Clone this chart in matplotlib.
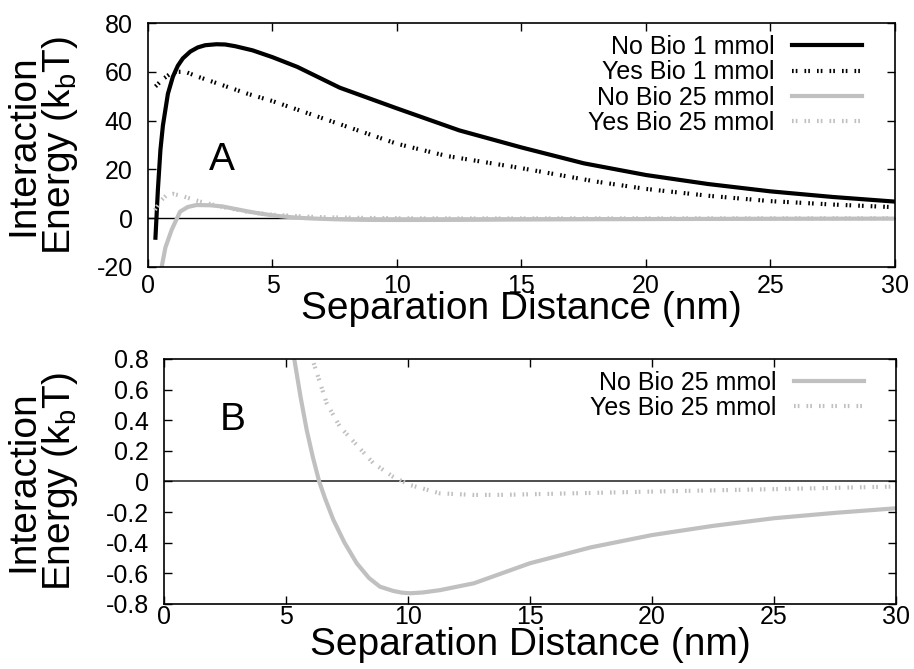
import matplotlib
matplotlib.use("Agg")
import matplotlib.pyplot as plt

plt.rcParams['font.family'] = ['Liberation Sans', 'DejaVu Sans']
plt.rcParams['mathtext.fontset'] = 'custom'
plt.rcParams['mathtext.rm'] = 'Liberation Sans'
plt.rcParams['mathtext.it'] = 'Liberation Sans'
plt.rcParams['axes.unicode_minus'] = False
plt.rcParams['lines.scale_dashes'] = False

# --- data ---
# 1 mmol curves (panel A only)
x_nobio1 = [0.3, 0.4, 0.5, 0.6, 0.8, 1.0, 1.2, 1.4, 1.7, 2.0, 2.3, 2.75, 3.1, 3.5,
            4.2, 5.0, 6.0, 7.7, 10.0, 12.5, 15.0, 17.5, 20.0, 22.5, 25.0, 27.5, 30.0]
y_nobio1 = [-8, 12, 28, 38, 51, 58, 62.5, 65.5, 68.3, 70, 70.9, 71.3, 71.2, 70.5,
            68.8, 66, 62, 53.5, 45, 36, 29, 22.5, 17.7, 14, 11, 8.7, 6.8]

x_yesbio1 = [0.3, 0.6, 1.0, 1.5, 2.0, 3.0, 4.0, 5.0, 6.0, 7.0, 8.0, 10.0,
             12.0, 15.0, 18.0, 20.0, 22.5, 25.0, 27.5, 30.0]
y_yesbio1 = [54, 57, 60, 60, 58, 54.5, 51, 48, 44.5, 41, 37.5, 30.5,
             25.5, 20.5, 15, 12, 9.2, 7, 5.6, 4.5]

# 25 mmol curves (both panels)
x_nobio25 = [0.45, 0.55, 0.7, 0.95, 1.29, 1.6, 1.95, 2.5, 3.0, 3.5, 4.0, 4.5,
             5.0, 5.34, 5.6, 5.85, 6.1, 6.36, 6.6, 6.94, 7.4, 7.9, 8.4, 8.85,
             9.4, 9.75, 10.1, 10.6, 11.3, 12.7, 15.0, 17.5, 20.0, 22.5, 25.0, 27.5, 30.0]
y_nobio25 = [-30, -20, -12, -4.8, 2.7, 4.6, 5.4, 5.3, 4.8, 3.8, 2.8, 1.9,
             1.2, 0.8, 0.55, 0.336, 0.16, 0.0, -0.11, -0.25, -0.4, -0.534, -0.63, -0.687,
             -0.715, -0.726, -0.73, -0.725, -0.71, -0.665, -0.534, -0.43, -0.35, -0.29,
             -0.24, -0.205, -0.175]

x_yesbio25 = [0.28, 0.5, 0.75, 1.0, 1.4, 2.09, 3.0, 3.96, 5.0, 6.08, 6.67, 7.21,
              7.9, 8.58, 9.4, 10.08, 11.3, 12.7, 14.0, 16.0, 20.0, 25.0, 30.0]
y_yesbio25 = [3.4, 7, 9.5, 10, 9, 6.8, 4.6, 2.7, 1.4, 0.8, 0.51, 0.358,
              0.238, 0.119, 0.03, -0.023, -0.077, -0.088, -0.087, -0.08, -0.066, -0.05, -0.033]

# panel B only shows the long-range part
b_xmin = 5.0

xticks = [0, 5, 10, 15, 20, 25, 30]
yticks_a = [-20, 0, 20, 40, 60, 80]
yticks_b = [-0.8, -0.6, -0.4, -0.2, 0, 0.2, 0.4, 0.6, 0.8]
yticklabels_b = ['-0.8', '-0.6', '-0.4', '-0.2', '0', '0.2', '0.4', '0.6', '0.8']

gray = '#c0c0c0'
dots = (1.2, 1.5, 1.2, 5.1)
lw = 3.0

fig = plt.figure(figsize=(9.14, 6.69), dpi=100)
ax_a = fig.add_axes([0.1619, 0.6009, 0.8173, 0.3647])
ax_b = fig.add_axes([0.1794, 0.0972, 0.8009, 0.3662])

ylabel = 'Interaction\nEnergy (k$_{\\mathrm{b}}$T)'


def tail(xs, ys, xmin):
    pts = [(x, y) for x, y in zip(xs, ys) if x >= xmin]
    return [p[0] for p in pts], [p[1] for p in pts]


def style_axes(ax, label_x, xpad, xlabelpad):
    ax.tick_params(direction='in', length=6, width=1, top=True, right=True,
                   labelsize=18, color='black')
    ax.tick_params(axis='x', pad=xpad)
    ax.tick_params(axis='y', pad=11)
    for s in ax.spines.values():
        s.set_linewidth(1.2)
    ax.set_xlim(0, 30)
    ax.set_xticks(xticks)
    ax.set_xlabel('Separation Distance (nm)', fontsize=28, labelpad=xlabelpad)
    ax.set_ylabel(ylabel, fontsize=28, linespacing=0.95)
    ax.yaxis.set_label_coords(label_x, 0.5)


def add_legend(ax, top):
    ax.legend(loc='upper right', bbox_to_anchor=(0.956, top), frameon=False,
              markerfirst=False, fontsize=18, handlelength=2.8, labelspacing=0.05,
              borderpad=0, borderaxespad=0, handletextpad=0.7)


# panel A
ax_a.axhline(0, color='black', lw=1.0, zorder=1)
ax_a.plot(x_nobio1, y_nobio1, color='black', lw=lw, label='No Bio 1 mmol')
ax_a.plot(x_yesbio1, y_yesbio1, color='black', lw=lw, dashes=dots, label='Yes Bio 1 mmol')
ax_a.plot(x_nobio25, y_nobio25, color=gray, lw=lw, label='No Bio 25 mmol')
ax_a.plot(x_yesbio25, y_yesbio25, color=gray, lw=lw, dashes=dots, label='Yes Bio 25 mmol')
ax_a.set_ylim(-20, 80)
ax_a.set_yticks(yticks_a)
style_axes(ax_a, -0.091, 5, -5)
ax_a.text(2.97, 24, 'A', fontsize=28, ha='center', va='center')
add_legend(ax_a, 0.95)

# panel B
xb1, yb1 = tail(x_nobio25, y_nobio25, b_xmin)
xb2, yb2 = tail(x_yesbio25, y_yesbio25, b_xmin)
ax_b.axhline(0, color='#303030', lw=1.2, zorder=1)
ax_b.plot(xb1, yb1, color=gray, lw=lw, label='No Bio 25 mmol')
ax_b.plot(xb2, yb2, color=gray, lw=lw, dashes=dots, label='Yes Bio 25 mmol')
ax_b.set_ylim(-0.8, 0.8)
ax_b.set_yticks(yticks_b)
ax_b.set_yticklabels(yticklabels_b)
style_axes(ax_b, -0.115, 1, -2)
ax_b.text(2.8, 0.40, 'B', fontsize=28, ha='center', va='center')
add_legend(ax_b, 0.952)

fig.savefig('out.png', dpi=100)
